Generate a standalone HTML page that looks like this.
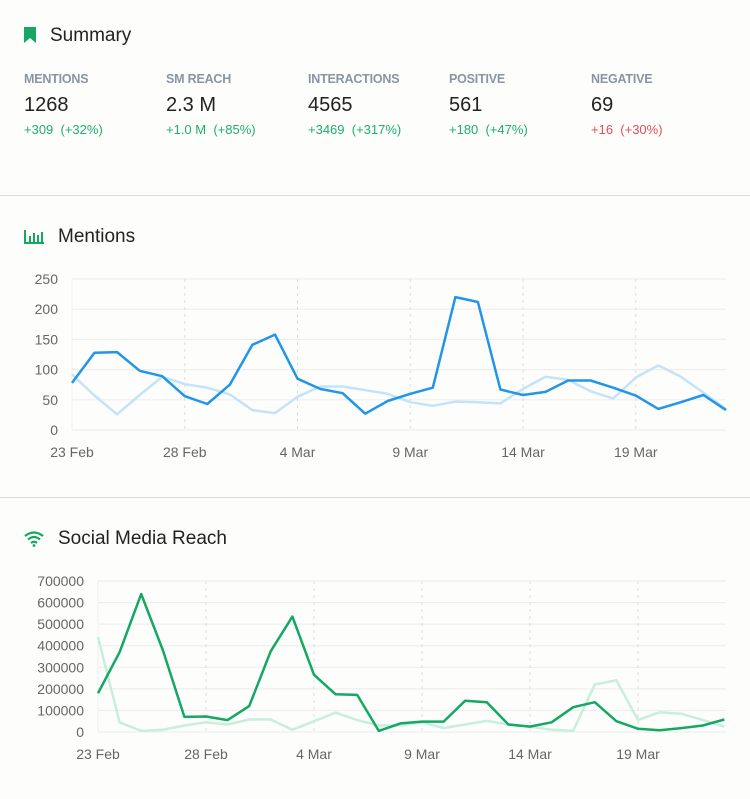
<!DOCTYPE html><html><head><style>
body{margin:0;width:750px;height:799px;background:#fdfdfc;font-family:"Liberation Sans",sans-serif;position:relative;overflow:hidden}
.a{position:absolute;white-space:nowrap}
.lab{font-size:12.5px;color:#8a94a2;font-weight:bold;letter-spacing:-.2px}
.num{font-size:20px;color:#222}
.ch{font-size:13px;color:#1fae6c}
.h{font-size:19px;color:#222}
.hr{position:absolute;left:0;width:750px;height:1px;background:#ddd}
svg text{font-family:"Liberation Sans",sans-serif;font-size:14px;fill:#666}
</style></head><body>
<svg class="a" style="left:24px;top:27px" width="14" height="18"><path d="M0 0H12V16L6 11L0 16Z" fill="#14a864"/></svg>
<div class="a h" style="left:50px;top:25px">Summary</div>
<div class="a lab" style="left:24px;top:72px">MENTIONS</div>
<div class="a lab" style="left:166px;top:72px">SM REACH</div>
<div class="a lab" style="left:308px;top:72px">INTERACTIONS</div>
<div class="a lab" style="left:449px;top:72px">POSITIVE</div>
<div class="a lab" style="left:591px;top:72px">NEGATIVE</div>
<div class="a num" style="left:24px;top:94px">1268</div>
<div class="a num" style="left:166px;top:94px">2.3 M</div>
<div class="a num" style="left:308px;top:94px">4565</div>
<div class="a num" style="left:449px;top:94px">561</div>
<div class="a num" style="left:591px;top:94px">69</div>
<div class="a ch" style="left:24px;top:122px">+309&nbsp; (+32%)</div>
<div class="a ch" style="left:166px;top:122px">+1.0 M&nbsp; (+85%)</div>
<div class="a ch" style="left:308px;top:122px">+3469&nbsp; (+317%)</div>
<div class="a ch" style="left:449px;top:122px">+180&nbsp; (+47%)</div>
<div class="a ch" style="left:591px;top:122px;color:#e0505a">+16&nbsp; (+30%)</div>
<div class="hr" style="top:195px"></div>
<div class="hr" style="top:497px"></div>
<svg class="a" style="left:24px;top:230px" width="20" height="14"><g fill="#14a864"><rect x="0" y="0" width="2" height="14"/><rect x="0" y="12" width="20" height="2"/><rect x="5" y="6" width="2" height="6"/><rect x="9" y="3" width="2" height="9"/><rect x="13" y="5" width="2" height="7"/><rect x="17" y="2" width="2" height="10"/></g></svg>
<div class="a h" style="left:58px;top:226px">Mentions</div>
<svg class="a" style="left:24px;top:531px" width="20" height="16" viewBox="0 0 20 16"><g fill="none" stroke="#14a864" stroke-width="2.2"><path d="M1 5Q10 -2 19 5"/><path d="M4 8.5Q10 3.5 16 8.5"/><path d="M7 12Q10 9.5 13 12"/></g><circle cx="10" cy="14.5" r="1.4" fill="#14a864"/></svg>
<div class="a h" style="left:58px;top:528px">Social Media Reach</div>
<svg class="a" style="left:0;top:0" width="750" height="799" id="s"></svg>
<script>
const s=document.getElementById('s');let h='';
function chart(x0,dx,y0,k,ticks,tl,dark,light,dc,lc,ly){
 ticks.forEach(t=>{let y=y0-t*k;h+=`<line x1="${x0}" x2="726" y1="${y}" y2="${y}" stroke="#eee" stroke-width="1.2"/><text x="${x0-14}" y="${y+5}" text-anchor="end">${tl?tl(t):t}</text>`});
 h+=`<line x1="${x0}" x2="${x0}" y1="${y0-ticks[ticks.length-1]*k}" y2="${y0}" stroke="#eee"/>`;
 ['23 Feb','28 Feb','4 Mar','9 Mar','14 Mar','19 Mar'].forEach((l,i)=>{let x=x0+i*5*dx;if(i)h+=`<line x1="${x}" x2="${x}" y1="${y0-ticks[ticks.length-1]*k}" y2="${y0}" stroke="#ddd" stroke-dasharray="3,4"/>`;h+=`<text x="${x}" y="${ly}" text-anchor="middle">${l}</text>`});
 const p=a=>a.map((v,i)=>(x0+i*dx).toFixed(1)+','+(y0-v*k).toFixed(1)).join(' ');
 h+=`<polyline points="${p(light)}" fill="none" stroke="${lc}" stroke-width="2.5" stroke-linejoin="round"/>`;
 h+=`<polyline points="${p(dark)}" fill="none" stroke="${dc}" stroke-width="2.5" stroke-linejoin="round"/>`;
}
chart(72,22.55,430,0.604,[0,50,100,150,200,250],null,
[78,128,129,98,89,56,43,75,141,158,85,68,61,27,48,60,70,220,212,67,58,63,82,82,70,57,35,46,58,33],
[92,57,26,58,88,76,70,59,33,28,55,72,72,66,60,46,40,47,46,44,68,88,83,64,52,87,107,88,62,35],'#2196e8','#c4e3fb',457);
chart(98,21.6,732,0.0002157,[0,100000,200000,300000,400000,500000,600000,700000],null,
[180,370,640,380,70,72,55,120,375,535,265,175,172,5,40,48,48,145,138,35,25,45,115,138,50,15,8,18,30,58].map(v=>v*1000),
[440,45,5,10,30,45,35,58,58,10,50,90,55,30,30,45,18,35,52,35,25,10,5,220,240,55,92,85,55,25].map(v=>v*1000),'#14a864','#c8eedc',759);
s.innerHTML=h;
</script>
</body></html>
